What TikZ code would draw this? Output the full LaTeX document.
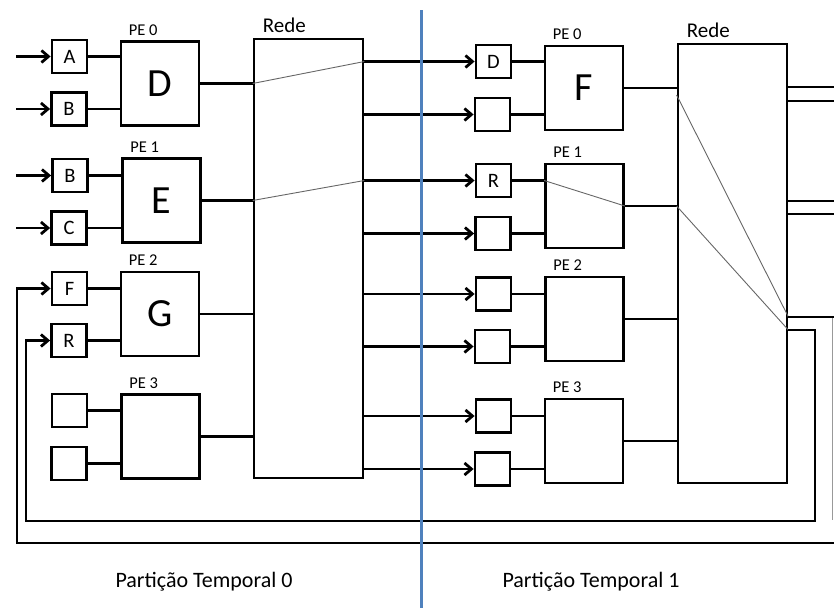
\documentclass[tikz,border=0pt]{standalone}
\usepackage{fontspec}
\setmainfont{Carlito}
\usetikzlibrary{arrows.meta,calc}
\definecolor{divblue}{RGB}{79,129,189}
\begin{document}
\begin{tikzpicture}[x=1pt,y=-1pt,
  sbox/.style={draw, line width=2.8pt, minimum width=35pt, minimum height=33pt, inner sep=0pt, font=\fontsize{20.5}{20.5}\selectfont},
  pe/.style={draw, line width=2.8pt, minimum width=78pt, minimum height=84pt, inner sep=0pt, font=\fontsize{40}{40}\selectfont},
  net/.style={draw, line width=2.8pt, minimum width=109pt, minimum height=439pt, inner sep=0pt},
  wire/.style={line width=2.8pt},
  arr/.style={wire, -{Straight Barb[length=7pt,width=12pt]}},
  fine/.style={line width=0.9pt, black!60},
  pelbl/.style={font=\fontsize{16.5}{16.5}\selectfont, anchor=base west, inner sep=0pt},
  netlbl/.style={font=\fontsize{21}{21}\selectfont, anchor=base west, inner sep=0pt},
  partlbl/.style={font=\fontsize{22}{22}\selectfont, anchor=base, inner sep=0pt}]
\useasboundingbox (0,0) rectangle (834,608);

% ---------- Partition 0 ----------
\node[sbox] (A)  at (69.5,56.5) {A};
\node[sbox] (B0) at (69,109) {B};
\node[pe]   (PE0) at (160,83.5) {D};
\node[sbox] (B1) at (70,175.5) {B};
\node[sbox] (C1) at (69,228) {C};
\node[pe]   (PE1) at (161.5,200.5) {E};
\node[sbox] (F2) at (69.5,288.5) {F};
\node[sbox] (R2) at (69,340.5) {R};
\node[pe]   (PE2) at (160,314) {G};
\node[sbox] (E3a) at (69.5,410.5) {};
\node[sbox] (E3b) at (69,463.5) {};
\node[pe]   (PE3) at (160.5,436.5) {};
\node[net]  (N0) at (308.5,258.5) {};

\foreach \p/\t in {PE0/PE 0,PE1/PE 1,PE2/PE 2,PE3/PE 3}
  \node[pelbl] at ($(\p.north west)+(9,-5)$) {\t};
\node[netlbl] at ($(N0.north west)+(10,-5)$) {Rede};

\coordinate (inx) at (16,0);
\foreach \b in {A,B0,B1,C1}
  \draw[arr] (inx |- \b.west) -- (\b.west);
\foreach \b/\p in {A/PE0,B0/PE0,B1/PE1,C1/PE1,F2/PE2,R2/PE2,E3a/PE3,E3b/PE3}
  \draw[wire] (\b.east) -- (\b.east -| \p.west);
\foreach \p in {PE0,PE1,PE2,PE3}
  \draw[wire] (\p.east) -- (\p.east -| N0.west);

% ---------- Partition 1 ----------
\node[sbox] (D)   at (493.5,61.5) {D};
\node[sbox] (s01) at (492.5,114.5) {};
\node[pe]   (Q0)  at (584,88) {F};
\node[sbox] (R)   at (493.5,180.5) {R};
\node[sbox] (s11) at (493,233.5) {};
\node[pe]   (Q1)  at (584.5,206) {};
\node[sbox] (s20) at (493.5,294) {};
\node[sbox] (s21) at (492.5,346.5) {};
\node[pe]   (Q2)  at (584.5,319) {};
\node[sbox] (s30) at (493.5,416) {};
\node[sbox] (s31) at (492.5,469) {};
\node[pe]   (Q3)  at (584,441) {};
\node[net]  (N1) at (732.5,263.5) {};

\foreach \p/\t in {Q0/PE 0,Q1/PE 1,Q2/PE 2,Q3/PE 3}
  \node[pelbl] at ($(\p.north west)+(9,-5)$) {\t};
\node[netlbl] at ($(N1.north west)+(10,-5)$) {Rede};

\foreach \b in {D,s01,R,s11,s20,s21,s30,s31}
  \draw[arr] (N0.east |- \b.west) -- (\b.west);
\foreach \b/\p in {D/Q0,s01/Q0,R/Q1,s11/Q1,s20/Q2,s21/Q2,s30/Q3,s31/Q3}
  \draw[wire] (\b.east) -- (\b.east -| \p.west);
\foreach \p in {Q0,Q1,Q2,Q3}
  \draw[wire] (\p.east) -- (\p.east -| N1.west);

% routing inside the networks / PE 1
\draw[fine] (N0.west |- PE0.east) -- (N0.east |- D.west);
\draw[fine] (N0.west |- PE1.east) -- (N0.east |- R.west);
\draw[fine] (R.east -| Q1.west) -- (Q1.east);
\coordinate (oF) at (834,317);
\coordinate (oR) at (815,330);
\draw[fine] ($(N1.west |- Q0.east)+(0,7)$) -- (N1.east |- oF);
\draw[fine] (N1.west |- Q1.east) -- (N1.east |- oR);

% outputs of network 1
\foreach \y [count=\i] in {87,101,201,214}
  \coordinate (e\i) at (834,\y);
\foreach \i in {1,2,3,4}
  \draw[wire] (N1.east |- e\i) -- (e\i);
\draw[wire] (N1.east |- oF) -- (oF);

% feedback loops
\coordinate (rloop) at (26,521);
\draw[arr] (N1.east |- oR) -- (oR) |- (rloop) |- (R2.west);
\coordinate (fin) at (834,543);
\coordinate (floop) at (17,543);
\draw[arr] (fin) -- (floop) |- (F2.west);

% cut-off edge at the right
\coordinate (et) at (832,318);
\coordinate (eb) at (832,520);
\draw[line width=0.8pt, black!40] (et) -- (eb);

% partition labels and divider
\node[partlbl] (L0) at (204,587) {Partição Temporal 0};
\node[partlbl] (L1) at (591,587) {Partição Temporal 1};
\coordinate (dt) at (421.5,10);
\coordinate (db) at (421.5,608);
\draw[divblue, line width=3pt] (dt) -- (db);
\end{tikzpicture}
\end{document}
